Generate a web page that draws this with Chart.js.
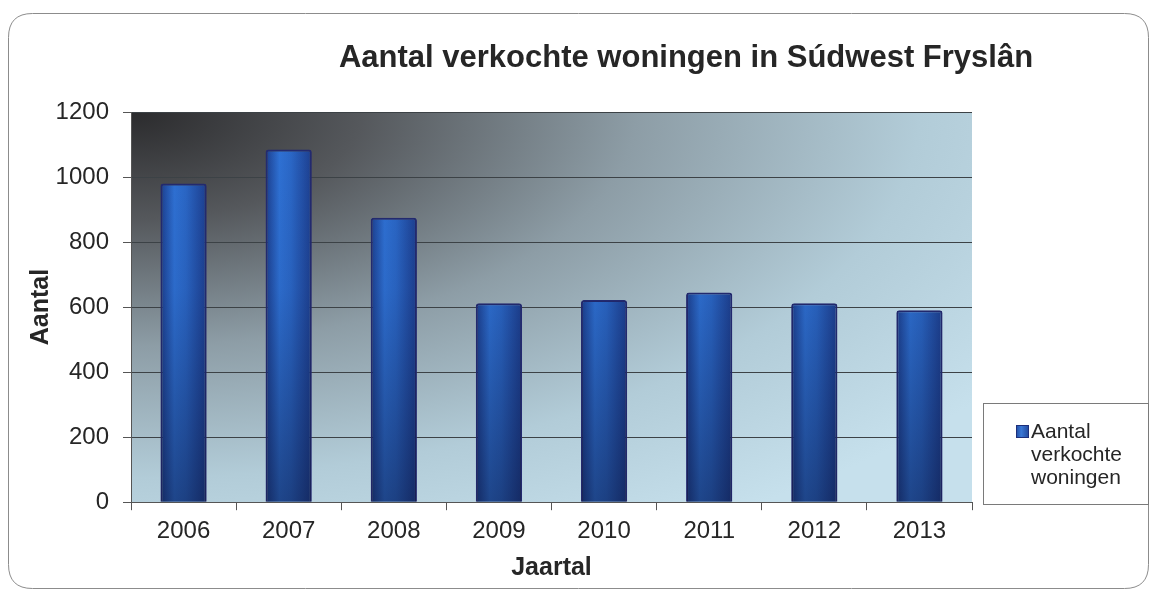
<!DOCTYPE html>
<html>
<head>
<meta charset="utf-8">
<script src="https://cdn.jsdelivr.net/npm/chart.js@4"></script>
<style>
  html, body { margin: 0; padding: 0; background: #ffffff; }
  #wrap { width: 1151px; height: 591px; }
</style>
</head>
<body>
<div id="wrap"><canvas id="c" width="1151" height="591"></canvas></div>
<script>
// Verkochte woningen per jaar
const jaren = ['2006', '2007', '2008', '2009', '2010', '2011', '2012', '2013'];
const verkocht = [980, 1085, 875, 612, 622, 645, 612, 590];
const yTicks = [0, 200, 400, 600, 800, 1000, 1200];

const titel = 'Aantal verkochte woningen in Súdwest Fryslân';
const reeksNaam = 'Aantal verkochte woningen';
const legendaRegels = ['Aantal', 'verkochte', 'woningen'];

const FONT = '"Liberation Sans", Arial, sans-serif';
const TEXT = '#262626';

// Outer rounded frame, plot background, title and legend box
const decor = {
  id: 'decor',
  beforeDraw(chart) {
    const ctx = chart.ctx;
    const a = chart.chartArea;
    ctx.save();
    // rounded frame
    const x0 = 8.5, y0 = 13.5, x1 = 1148.5, y1 = 588.5, r = 24;
    ctx.beginPath();
    ctx.moveTo(x0 + r, y0);
    ctx.lineTo(x1 - r, y0);
    ctx.quadraticCurveTo(x1, y0, x1, y0 + r);
    ctx.lineTo(x1, y1 - r);
    ctx.quadraticCurveTo(x1, y1, x1 - r, y1);
    ctx.lineTo(x0 + r, y1);
    ctx.quadraticCurveTo(x0, y1, x0, y1 - r);
    ctx.lineTo(x0, y0 + r);
    ctx.quadraticCurveTo(x0, y0, x0 + r, y0);
    ctx.closePath();
    ctx.fillStyle = '#ffffff';
    ctx.fill();
    ctx.strokeStyle = '#8c8c8c';
    ctx.lineWidth = 1;
    ctx.stroke();

    // plot area: dark corner top-left fading to pale blue
    const w = a.right - a.left, h = a.bottom - a.top;
    ctx.save();
    ctx.beginPath();
    ctx.rect(a.left, a.top, w, h);
    ctx.clip();
    ctx.translate(a.left, a.top);
    ctx.scale(w, h);
    const g = ctx.createRadialGradient(0, 0, 0, 0, 0, 1.25);
    g.addColorStop(0, '#2b2b2d');
    g.addColorStop(0.22, '#55585c');
    g.addColorStop(0.48, '#8d9da6');
    g.addColorStop(0.75, '#b2ccd8');
    g.addColorStop(1, '#c6e0ec');
    ctx.fillStyle = g;
    ctx.fillRect(0, 0, 1, 1);
    ctx.restore();

    // title
    ctx.fillStyle = TEXT;
    ctx.font = 'bold 31px ' + FONT;
    ctx.textAlign = 'center';
    ctx.textBaseline = 'middle';
    ctx.fillText(titel, 686, 58);
    ctx.restore();
  },
  afterDatasetsDraw(chart) {
    // bars darken towards their base
    const ctx = chart.ctx;
    const a = chart.chartArea;
    ctx.save();
    chart.getDatasetMeta(0).data.forEach(bar => {
      const p = bar.getProps(['x', 'y', 'base', 'width'], true);
      const g = ctx.createLinearGradient(0, a.top, 0, a.bottom);
      g.addColorStop(0, 'rgba(10,20,60,0)');
      g.addColorStop(0.45, 'rgba(10,20,60,0.08)');
      g.addColorStop(1, 'rgba(10,15,45,0.45)');
      ctx.fillStyle = g;
      ctx.fillRect(p.x - p.width / 2 + 1, p.y + 1, p.width - 2, p.base - p.y - 1);
    });
    ctx.restore();
  },
  afterDraw(chart) {
    const ctx = chart.ctx;
    ctx.save();
    // legend box
    const lx = 983.5, ly = 403.5, lw = 165, lh = 101;
    ctx.fillStyle = '#ffffff';
    ctx.fillRect(lx, ly, lw, lh);
    ctx.strokeStyle = '#7a7a7a';
    ctx.lineWidth = 1;
    ctx.strokeRect(lx, ly, lw, lh);
    const sw = ctx.createLinearGradient(1016, 0, 1029, 0);
    sw.addColorStop(0, '#1f4aa0');
    sw.addColorStop(0.4, '#3a78d6');
    sw.addColorStop(1, '#21479a');
    ctx.fillStyle = sw;
    ctx.fillRect(1016, 425, 13, 13);
    ctx.strokeStyle = '#1d2f7a';
    ctx.strokeRect(1016.5, 425.5, 12, 12);
    ctx.fillStyle = TEXT;
    ctx.font = '21px ' + FONT;
    ctx.textAlign = 'left';
    ctx.textBaseline = 'middle';
    legendaRegels.forEach((t, i) => ctx.fillText(t, 1031, 432 + i * 23.3));
    ctx.restore();
  }
};

function barFill(context) {
  const chart = context.chart;
  const xs = chart.scales.x;
  if (!xs || !chart.chartArea) return '#2c66c4';
  const cx = xs.getPixelForValue(context.dataIndex);
  const bw = (xs.width / jaren.length) * 0.44;
  const g = chart.ctx.createLinearGradient(cx - bw / 2, 0, cx + bw / 2, 0);
  g.addColorStop(0, '#1c3f8f');
  g.addColorStop(0.3, '#2f72d6');
  g.addColorStop(0.55, '#2b68c8');
  g.addColorStop(1, '#1d3f90');
  return g;
}

new Chart(document.getElementById('c'), {
  type: 'bar',
  data: {
    labels: jaren,
    datasets: [{
      label: reeksNaam,
      data: verkocht,
      backgroundColor: barFill,
      borderColor: '#232a70',
      borderWidth: 2,
      borderRadius: 3,
      borderSkipped: 'bottom',
      barPercentage: 0.44,
      categoryPercentage: 1.0
    }]
  },
  options: {
    responsive: false,
    animation: false,
    devicePixelRatio: 1,
    layout: { padding: { left: 26, right: 179, top: 112, bottom: 8 } },
    plugins: {
      legend: { display: false },
      title: { display: false },
      tooltip: { enabled: false }
    },
    scales: {
      x: {
        offset: true,
        grid: {
          display: true,
          offset: true,
          drawOnChartArea: false,
          drawTicks: true,
          tickLength: 8,
          color: '#555555'
        },
        border: { display: true, color: '#555555', width: 1 },
        ticks: { color: TEXT, font: { family: FONT, size: 24 }, padding: 7 },
        title: {
          display: true,
          text: 'Jaartal',
          color: TEXT,
          font: { family: FONT, size: 25, weight: 'bold' },
          padding: { top: 0, bottom: 0 }
        }
      },
      y: {
        min: 0,
        max: 1200,
        afterBuildTicks(scale) {
          scale.ticks = yTicks.map(v => ({ value: v }));
        },
        afterFit(scale) { scale.width = 105; },
        grid: {
          color: '#3c4246',
          lineWidth: 1,
          drawTicks: true,
          tickLength: 8,
          tickColor: '#555555'
        },
        border: { display: true, color: '#555555', width: 1 },
        ticks: {
          color: TEXT,
          font: { family: FONT, size: 24 },
          padding: 14,
          callback: v => String(v)
        },
        title: {
          display: true,
          text: 'Aantal',
          color: TEXT,
          font: { family: FONT, size: 25, weight: 'bold' },
          padding: { top: 0, bottom: 0 }
        }
      }
    }
  },
  plugins: [decor]
});
</script>
</body>
</html>
